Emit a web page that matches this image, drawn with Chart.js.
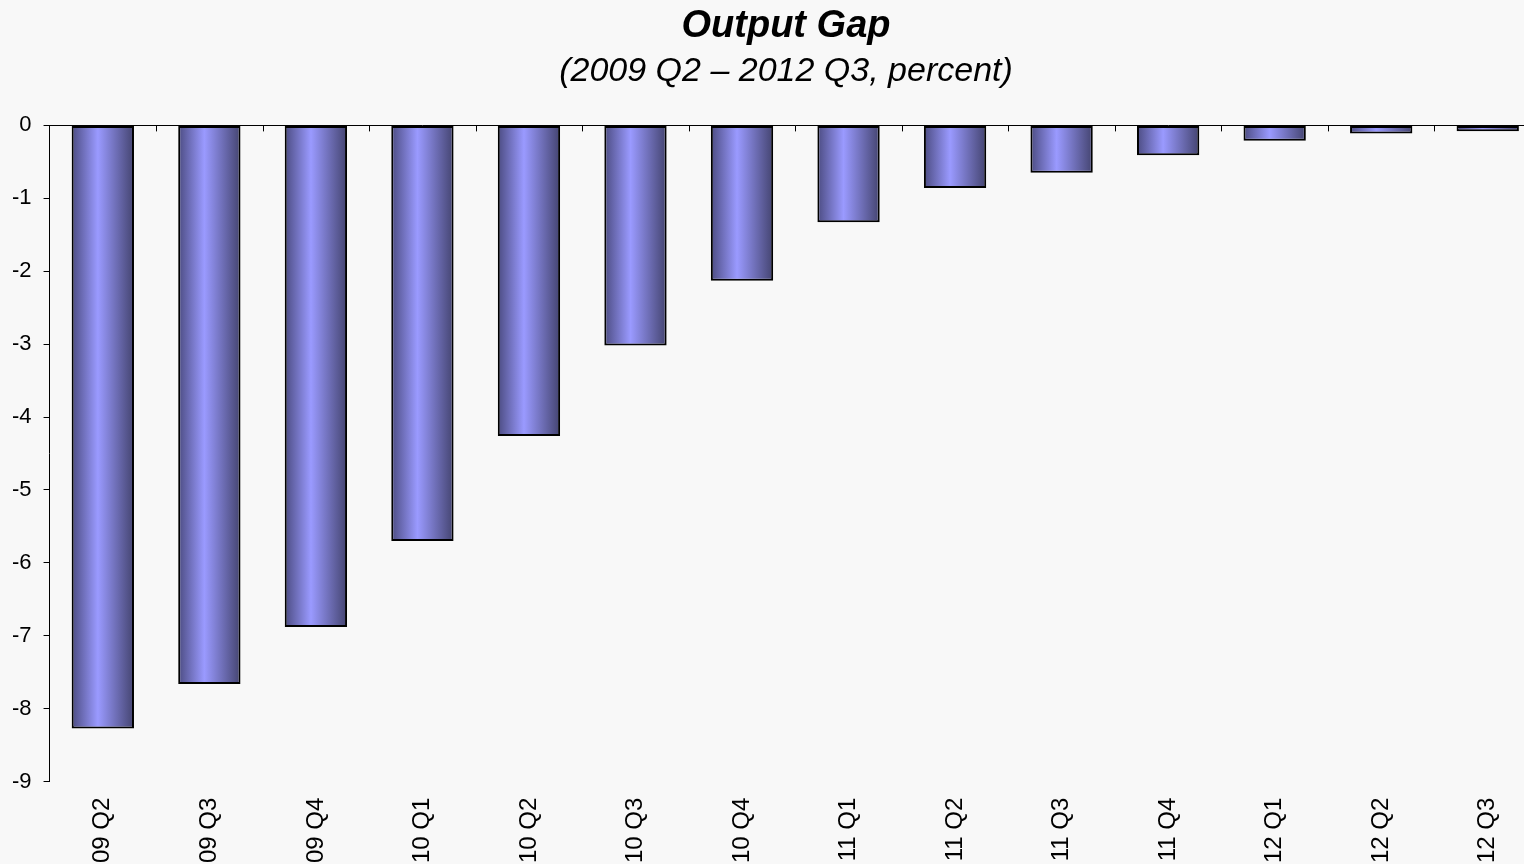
<!DOCTYPE html>
<html>
<head>
<meta charset="utf-8">
<title>Output Gap</title>
<script src="https://cdn.jsdelivr.net/npm/chart.js@4.4.1/dist/chart.umd.min.js"></script>
<style>
  html, body { margin: 0; padding: 0; background: #f8f8f8; overflow: hidden; }
  #wrap { position: relative; width: 1572px; height: 894px; }
</style>
</head>
<body>
<div id="wrap"><canvas id="gapChart" width="1572" height="894"></canvas></div>
<script>
const QUARTERS = ['09 Q2', '09 Q3', '09 Q4', '10 Q1', '10 Q2', '10 Q3', '10 Q4',
  '11 Q1', '11 Q2', '11 Q3', '11 Q4', '12 Q1', '12 Q2', '12 Q3'];
const OUTPUT_GAP = [-8.27, -7.66, -6.88, -5.70, -4.26, -3.02, -2.13,
  -1.33, -0.86, -0.65, -0.41, -0.21, -0.11, -0.08];
const Y_TICKS = [0, -1, -2, -3, -4, -5, -6, -7, -8, -9];

const FONT = "'Liberation Sans', Arial, Helvetica, sans-serif";
const BAR_PCT = 0.585;

// shaded bar fill, dark at the edges and light near the middle
function barFill(ctx) {
  const chart = ctx.chart;
  const xs = chart.scales.x;
  if (!chart.chartArea || !xs || ctx.dataIndex === undefined) return '#9999ff';
  const center = xs.getPixelForValue(ctx.dataIndex);
  const half = (xs.width / QUARTERS.length) * BAR_PCT / 2;
  const g = chart.ctx.createLinearGradient(center - half, 0, center + half, 0);
  g.addColorStop(0, '#4c4c82');
  g.addColorStop(0.42, '#9a9aff');
  g.addColorStop(1, '#444470');
  return g;
}

// small tick marks hanging below the zero line, between the categories
const zeroTicks = {
  id: 'zeroTicks',
  afterDatasetsDraw(chart) {
    const xs = chart.scales.x;
    const y0 = chart.scales.y.getPixelForValue(0);
    const step = xs.width / QUARTERS.length;
    const c = chart.ctx;
    c.save();
    c.strokeStyle = '#000';
    c.lineWidth = 1;
    c.beginPath();
    for (let i = 1; i < QUARTERS.length; i++) {
      const x = Math.round(xs.getPixelForValue(i) - step / 2) + 0.5;
      c.moveTo(x, y0);
      c.lineTo(x, y0 + 6);
    }
    c.stroke();
    c.restore();
  }
};

new Chart(document.getElementById('gapChart'), {
  type: 'bar',
  data: {
    labels: QUARTERS,
    datasets: [{
      data: OUTPUT_GAP,
      backgroundColor: barFill,
      borderColor: '#000',
      borderWidth: 2,
      borderSkipped: false,
      barPercentage: BAR_PCT,
      categoryPercentage: 1,
    }],
  },
  options: {
    responsive: false,
    animation: false,
    layout: { padding: { bottom: 23 } },
    plugins: {
      legend: { display: false },
      tooltip: { enabled: false },
      title: {
        display: true,
        text: 'Output Gap',
        color: '#000',
        font: { family: FONT, size: 38, weight: 'bold', style: 'italic' },
        padding: { top: 4, bottom: 0 },
      },
      subtitle: {
        display: true,
        text: '(2009 Q2 \u2013 2012 Q3, percent)',
        color: '#000',
        font: { family: FONT, size: 34, style: 'italic' },
        padding: { top: 2, bottom: 33 },
      },
    },
    scales: {
      x: {
        position: 'bottom',
        grid: { display: false },
        border: { display: false },
        ticks: {
          color: '#000',
          minRotation: 90,
          maxRotation: 90,
          padding: 8,
          font: { family: FONT, size: 24 },
        },
      },
      y: {
        min: Math.min(...Y_TICKS),
        max: Math.max(...Y_TICKS),
        afterBuildTicks(scale) {
          scale.ticks = Y_TICKS.map(v => ({ value: v }));
        },
        border: { display: true, color: '#000', width: 1 },
        grid: {
          drawOnChartArea: true,
          tickLength: 6,
          tickColor: '#000',
          color: c => (c.tick && c.tick.value === 0 ? '#000' : 'rgba(0,0,0,0)'),
          lineWidth: 1,
        },
        ticks: {
          color: '#000',
          padding: 12,
          font: { family: FONT, size: 22 },
        },
      },
      // empty right-hand axis, only keeps some room after the last bar
      yRight: {
        position: 'right',
        display: true,
        grid: { display: false },
        border: { display: false },
        ticks: { display: false },
        afterFit(scale) { scale.width = 31; },
      },
    },
  },
  plugins: [zeroTicks],
});
</script>
</body>
</html>
